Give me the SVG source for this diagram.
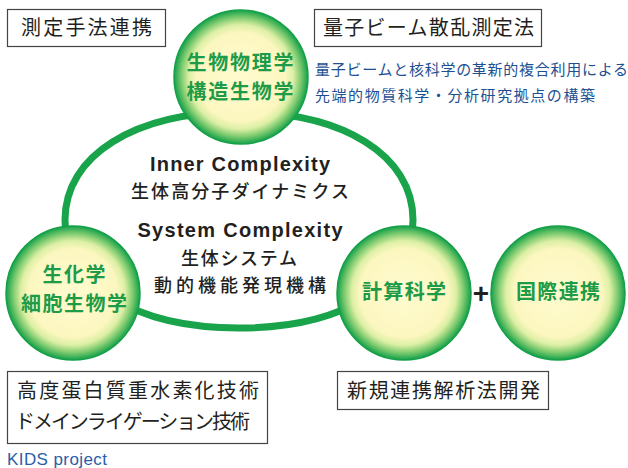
<svg xmlns="http://www.w3.org/2000/svg" width="628" height="468" viewBox="0 0 628 468">
<defs>
<radialGradient id="ball" cx="50%" cy="50%" r="50%">
<stop offset="0" stop-color="#fffbcf"/>
<stop offset="0.66" stop-color="#fcf7c0"/>
<stop offset="0.78" stop-color="#dcefa4"/>
<stop offset="0.89" stop-color="#7fcb70"/>
<stop offset="1" stop-color="#15a14a"/>
</radialGradient>
<style>
.ball{fill:url(#ball);stroke:#16a049;stroke-width:1.5}
.gt{font-family:"Noto Sans CJK JP","Noto Sans CJK SC",sans-serif;font-weight:700;font-size:20px;fill:#1e9b48;text-anchor:middle}
.ct{font-family:"Noto Sans CJK JP","Noto Sans CJK SC",sans-serif;font-weight:500;font-size:18px;fill:#231f20;text-anchor:middle}
.lt{font-family:"Liberation Sans",Arial,sans-serif;font-weight:700;font-size:20px;fill:#231f20;text-anchor:middle}
.bx{fill:#fff;stroke:#444;stroke-width:1.2}
.bt{font-family:"Noto Sans CJK JP","Noto Sans CJK SC",sans-serif;font-weight:400;font-size:20px;fill:#231f20}
.blue{font-family:"Noto Sans CJK JP","Noto Sans CJK SC",sans-serif;font-weight:400;font-size:15px;fill:#1d4f91}
</style>
</defs>
<rect width="628" height="468" fill="#fff"/>
<g id="connectors">
<path d="M65,220 C65,155.2 134.6,112 239,112 C343.4,112 413,155.2 413,220 C413,284.8 343.4,328 239,328 C134.6,328 65,284.8 65,220 Z" fill="none" stroke="#19a34a" stroke-width="7"/>
</g>
<g id="center-text">
<text class="lt" x="240" y="170.5" textLength="180" lengthAdjust="spacing">Inner Complexity</text>
<text class="ct" x="240" y="197.7" textLength="218" lengthAdjust="spacing">生体高分子ダイナミクス</text>
<text class="lt" x="240" y="236.5" textLength="205" lengthAdjust="spacing">System Complexity</text>
<text class="ct" x="239" y="264.7" textLength="116" lengthAdjust="spacing">生体システム</text>
<text class="ct" x="240" y="291.7" textLength="172" lengthAdjust="spacing">動的機能発現機構</text>
</g>
<g id="node-biophysics">
<circle class="ball" cx="241" cy="77" r="67"/>
<text class="gt" x="240" y="70.4" textLength="107" lengthAdjust="spacing">生物物理学</text>
<text class="gt" x="240" y="99.4" textLength="107" lengthAdjust="spacing">構造生物学</text>
</g>
<g id="node-biochem">
<circle class="ball" cx="73" cy="293" r="67"/>
<text class="gt" x="74" y="282.4" textLength="63" lengthAdjust="spacing">生化学</text>
<text class="gt" x="74" y="311.4" textLength="106" lengthAdjust="spacing">細胞生物学</text>
</g>
<g id="node-compsci">
<circle class="ball" cx="404" cy="293" r="67"/>
<text class="gt" x="404" y="299.4" textLength="84" lengthAdjust="spacing">計算科学</text>
</g>
<g id="plus">
<text x="481" y="302.5" font-family="Liberation Sans,Arial,sans-serif" font-weight="700" font-size="28" fill="#231f20" text-anchor="middle">+</text>
</g>
<g id="node-intl">
<circle class="ball" cx="558" cy="293" r="67"/>
<text class="gt" x="558" y="299.4" textLength="84" lengthAdjust="spacing">国際連携</text>
</g>
<g id="box-measure">
<rect class="bx" x="7.5" y="9.5" width="158" height="37"/>
<text class="bt" x="21" y="35.4" textLength="131" lengthAdjust="spacing">測定手法連携</text>
</g>
<g id="box-quantum">
<rect class="bx" x="314.5" y="9.5" width="227" height="37"/>
<text class="bt" x="323" y="35.4" textLength="211" lengthAdjust="spacing">量子ビーム散乱測定法</text>
<text class="blue" x="315" y="74.5" textLength="313" lengthAdjust="spacing">量子ビームと核科学の革新的複合利用による</text>
<text class="blue" x="315" y="100.5" textLength="280" lengthAdjust="spacing">先端的物質科学・分析研究拠点の構築</text>
</g>
<g id="box-deuteration">
<rect class="bx" x="7.5" y="371.5" width="260" height="72"/>
<text class="bt" x="17" y="398.4" textLength="242" lengthAdjust="spacing">高度蛋白質重水素化技術</text>
<text class="bt" x="15" y="429.4" textLength="235" lengthAdjust="spacing">ドメインライゲーション技術</text>
</g>
<g id="box-analysis">
<rect class="bx" x="337.5" y="371.5" width="211" height="38"/>
<text class="bt" x="347" y="398.4" textLength="193" lengthAdjust="spacing">新規連携解析法開発</text>
</g>
<text x="7" y="465" font-family="Liberation Sans,Arial,sans-serif" font-size="17" fill="#2a5ea8" textLength="100" lengthAdjust="spacing">KIDS project</text>
</svg>
